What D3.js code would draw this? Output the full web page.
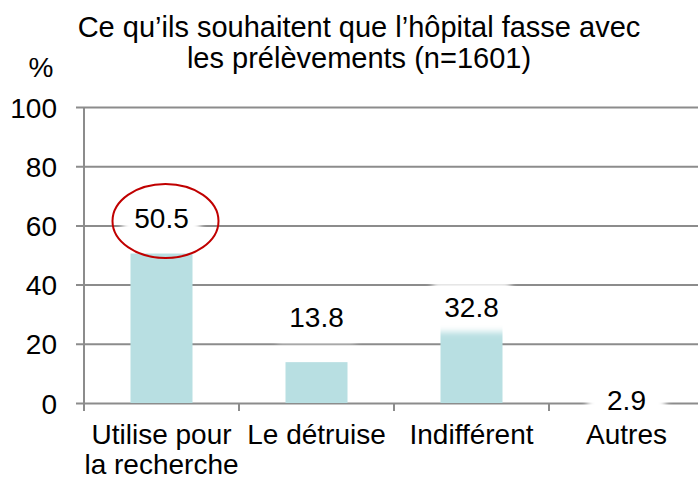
<!DOCTYPE html>
<html>
<head>
<meta charset="utf-8">
<script src="https://cdn.jsdelivr.net/npm/d3@7"></script>
<style>
  body { margin: 0; background: #fff; }
  svg text { font-family: "Liberation Sans", Arial, sans-serif; fill: #000; }
</style>
</head>
<body>
<svg id="chart" width="698" height="481"></svg>
<script>
const categories = [["Utilise pour", "la recherche"], ["Le détruise"], ["Indifférent"], ["Autres"]];
const values = [50.5, 13.8, 32.8, 2.9];
const valueLabels = ["50.5", "13.8", "32.8", "2.9"];
const yTicks = [0, 20, 40, 60, 80, 100];
const titleLines = ["Ce qu’ils souhaitent que l’hôpital fasse avec", "les prélèvements (n=1601)"];

const svg = d3.select("#chart");
const gray = "#8c8c8c";

const x = d3.scaleBand()
            .domain(d3.range(values.length))
            .range([84, 704])
            .paddingInner(0.6)
            .paddingOuter(0.3);

const y = d3.scaleLinear()
            .domain([0, 100])
            .range([403, 107]);

// soft-edged white box behind the data labels
svg.append("defs").append("filter")
   .attr("id", "soft")
   .attr("x", "-30%").attr("y", "-30%")
   .attr("width", "160%").attr("height", "160%")
   .append("feGaussianBlur").attr("stdDeviation", 3);

// gridlines + y labels
const yAxis = svg.append("g")
   .attr("transform", "translate(76,0)")
   .call(d3.axisLeft(y).tickValues(yTicks).tickSize(-628).tickPadding(19));
yAxis.select(".domain").remove();
yAxis.selectAll("line").attr("stroke", gray).attr("stroke-width", 2);
yAxis.selectAll("text").style("font-size", "28px").attr("dy", "0.36em");

// vertical axis line
svg.append("line")
   .attr("x1", 84).attr("x2", 84)
   .attr("y1", y(100)).attr("y2", y(0) + 8)
   .attr("stroke", gray).attr("stroke-width", 2);

// category separators on the x axis
svg.selectAll(".sep")
   .data(d3.range(values.length + 1))
   .enter().append("line")
   .attr("x1", i => 84 + i * x.step())
   .attr("x2", i => 84 + i * x.step())
   .attr("y1", y(0)).attr("y2", y(0) + 8)
   .attr("stroke", gray).attr("stroke-width", 2);

// bars
svg.selectAll(".bar")
   .data(values)
   .enter().append("rect")
   .attr("x", (d, i) => x(i))
   .attr("y", d => y(d))
   .attr("width", x.bandwidth())
   .attr("height", d => y(0) - y(d))
   .attr("fill", "#b8dfe2");

// data labels (hand placed in the original)
const labelDy = [-26, -35, 11, 16];
const lab = svg.selectAll(".lab")
   .data(values)
   .enter().append("g")
   .attr("transform", (d, i) => `translate(${x(i) + x.bandwidth() / 2},${y(d) + labelDy[i]})`);
lab.append("rect")
   .attr("x", -39).attr("y", -35)
   .attr("width", 78).attr("height", 50)
   .attr("fill", "#fff")
   .attr("filter", "url(#soft)");
lab.append("text")
   .attr("text-anchor", "middle")
   .style("font-size", "28px")
   .text((d, i) => valueLabels[i]);

// red ellipse around the first label
svg.append("ellipse")
   .attr("cx", x(0) + x.bandwidth() / 2 + 4)
   .attr("cy", 221)
   .attr("rx", 53).attr("ry", 37)
   .attr("fill", "none")
   .attr("stroke", "#c00000")
   .attr("stroke-width", 2);

// category labels
const cat = svg.selectAll(".cat")
   .data(categories)
   .enter().append("text")
   .attr("text-anchor", "middle")
   .style("font-size", "28px")
   .attr("transform", (d, i) => `translate(${x(i) + x.bandwidth() / 2},444)`);
cat.selectAll("tspan")
   .data(d => d)
   .enter().append("tspan")
   .attr("x", 0)
   .attr("y", (d, j) => j * 30)
   .text(d => d);

// title
svg.selectAll(".title")
   .data(titleLines)
   .enter().append("text")
   .attr("x", 359)
   .attr("y", (d, i) => 37 + i * 31)
   .attr("text-anchor", "middle")
   .style("font-size", "29px")
   .text(d => d);

svg.append("text")
   .attr("x", 41).attr("y", 77)
   .attr("text-anchor", "middle")
   .style("font-size", "28px")
   .text("%");
</script>
</body>
</html>
